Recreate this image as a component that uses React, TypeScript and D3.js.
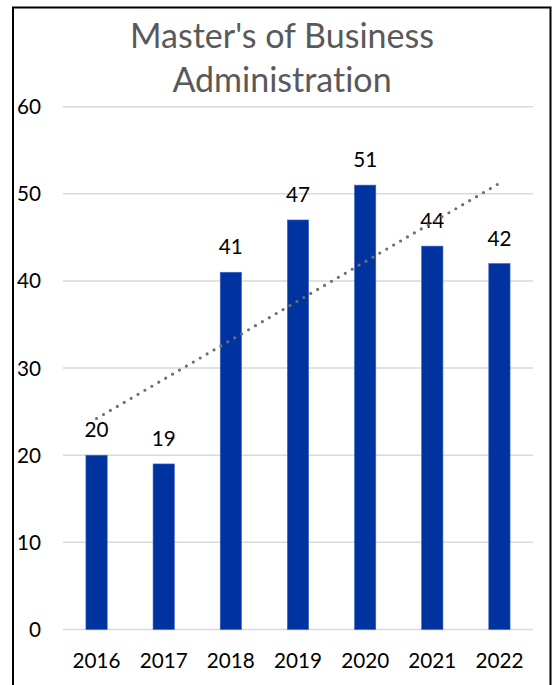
import React from "react";
import * as d3 from "d3";

const years = ["2016", "2017", "2018", "2019", "2020", "2021", "2022"];
const values = [20, 19, 41, 47, 51, 44, 42];
const yTicks = [0, 10, 20, 30, 40, 50, 60];
const titleLines = ["Master's of Business", "Administration"];

const W = 553;
const H = 685;
const FONT = "Lato, 'Open Sans', sans-serif";

export default function App() {
  const x = d3.scaleBand<string>().domain(years).range([63, 533]).paddingInner(0.683).paddingOuter(0.3415);
  const xc = d3.scaleBand<string>().domain(years).range([63, 533]);
  const y = d3.scaleLinear().domain([0, 60]).range([629.5, 106.7]);

  // linear trendline (least squares) over category index 1..n
  const n = values.length;
  const xs = values.map((_, i) => i + 1);
  const mx = d3.mean(xs) as number;
  const my = d3.mean(values) as number;
  const sxy = d3.sum(xs.map((xi, i) => (xi - mx) * (values[i] - my)));
  const sxx = d3.sum(xs.map((xi) => (xi - mx) * (xi - mx)));
  const slope = sxy / sxx;
  const intercept = my - slope * mx;
  const trendPts: [number, number][] = [1, n].map((xi) => [
    (xc(years[xi - 1]) as number) + xc.bandwidth() / 2,
    y(intercept + slope * xi),
  ]);
  const line = d3.line();

  return (
    <svg
      width={W}
      height={H}
      style={{ position: "absolute", left: 0, top: 0, background: "#fff", fontVariantLigatures: "none" }}
      fontFamily={FONT}
    >
      <rect x={0} y={0} width={W} height={H} fill="#fff" />
      {/* gridlines */}
      {yTicks.map((t) => (
        <line key={t} x1={63} x2={533} y1={y(t)} y2={y(t)} stroke="#D9D9D9" strokeWidth={1.5} />
      ))}
      {/* y tick labels */}
      {yTicks.map((t) => (
        <text key={"l" + t} x={41} y={y(t) + 7.5} textAnchor="end" fontSize={20.7} fill="#000">
          {t}
        </text>
      ))}
      {/* bars */}
      {values.map((v, i) => (
        <rect
          key={years[i]}
          x={x(years[i])}
          y={y(v)}
          width={x.bandwidth()}
          height={y(0) - y(v)}
          fill="#0033A0"
          stroke="#3C64C8"
          strokeWidth={0.6}
        />
      ))}
      {/* data labels */}
      {values.map((v, i) => (
        <text
          key={"d" + i}
          x={(xc(years[i]) as number) + xc.bandwidth() / 2}
          y={y(v) - 18}
          textAnchor="middle"
          fontSize={20.7}
          fill="#000"
        >
          {v}
        </text>
      ))}
      {/* trendline */}
      <path
        d={line(trendPts) || ""}
        fill="none"
        stroke="#707070"
        strokeWidth={3.2}
        strokeDasharray="0 8"
        strokeLinecap="round"
      />
      {/* x labels */}
      {years.map((yr) => (
        <text
          key={"x" + yr}
          x={(xc(yr) as number) + xc.bandwidth() / 2}
          y={668.3}
          textAnchor="middle"
          fontSize={20.7}
          fill="#000"
        >
          {yr}
        </text>
      ))}
      {/* title */}
      {titleLines.map((s, i) => (
        <text
          key={"t" + i}
          x={282}
          y={47.7 + i * 44}
          textAnchor="middle"
          fontSize={34}
          fill="#595959"
          style={{ fontVariantLigatures: "none", fontFeatureSettings: "'liga' 0, 'clig' 0" }}
        >
          {s}
        </text>
      ))}
      {/* chart border (bottom is cut off) */}
      <path d={`M13,${H} V7.5 H550.5 V${H}`} fill="none" stroke="#000" strokeWidth={2} />
    </svg>
  );
}
